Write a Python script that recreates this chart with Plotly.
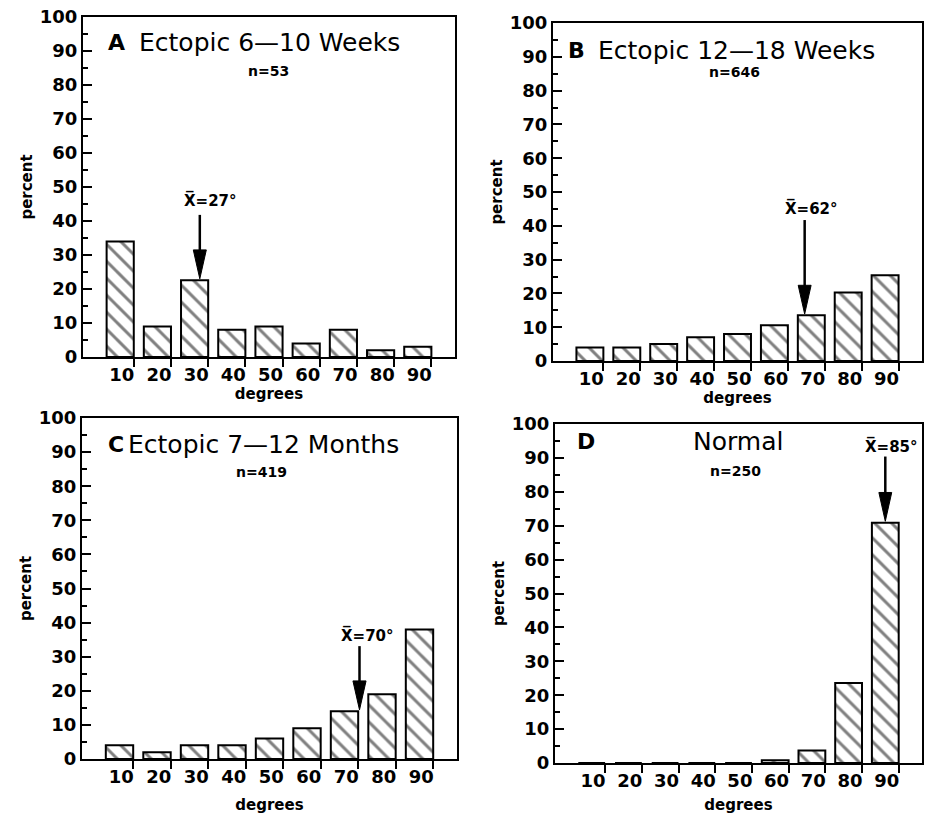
import plotly.graph_objects as go

# ---------------- data ----------------
degrees = [10, 20, 30, 40, 50, 60, 70, 80, 90]
tick_labels = ["10", "20", "30", "40", "50", "60", "70", "80", "90"]

pct_a = [34, 9, 22.6, 8, 9, 4, 8, 2, 3]
pct_b = [4, 4, 5, 7, 8, 10.6, 13.5, 20.3, 25.4]
pct_c = [4, 2, 4, 4, 6, 9, 14, 19, 38]
pct_d = [0, 0, 0, 0, 0, 0.8, 3.7, 23.6, 70.9]

panel_letters = ["A", "B", "C", "D"]
panel_titles = ["Ectopic 6\u201410 Weeks", "Ectopic 12\u201418 Weeks",
                "Ectopic 7\u201412 Months", "Normal"]
panel_n = ["n=53", "n=646", "n=419", "n=250"]
mean_labels = ["27\u00b0", "62\u00b0", "70\u00b0", "85\u00b0"]
arrow_x = [31.4, 68.2, 74.0, 90.0]
arrow_top = [41.8, 41.7, 33.1, 90.4]

series = [pct_a, pct_b, pct_c, pct_d]

# ---------------- layout config (pixels of a 927x814 page) ----------------
W, H = 927, 814
boxes = [  # left, right, top, bottom in px
    (83, 455, 17, 357),
    (553, 922, 23, 361),
    (82, 457, 418, 759),
    (555, 922, 424, 763),
]
letter_pos = [(6.3, 92.4), (3.6, 92.0), (6.3, 92.1), (5.4, 94.9)]
title_pos = [(50.0, 92.4), (49.7, 92.0), (48.3, 92.1), (49.8, 94.9)]
n_pos = [(49.8, 84.0), (49.2, 85.6), (47.8, 84.1), (49.2, 86.1)]
mean_text_pos = [(34.2, 46.3), (70.0, 45.3), (76.0, 36.4), (91.7, 93.4)]
xtitle_standoff = [2, 3, 18, 12]

FONT = "DejaVu Sans"
bar_width = 7.3
head_len = 8.5
head_half = 1.75

fig = go.Figure()
layout = dict(
    width=W, height=H,
    margin=dict(l=0, r=0, t=0, b=0, autoexpand=False),
    paper_bgcolor="white", plot_bgcolor="white",
    showlegend=False,
    font=dict(family=FONT, color="black"),
)
annotations = []
shapes = []

for i, vals in enumerate(series):
    xa = "x" if i == 0 else f"x{i+1}"
    ya = "y" if i == 0 else f"y{i+1}"
    xk = "xaxis" if i == 0 else f"xaxis{i+1}"
    yk = "yaxis" if i == 0 else f"yaxis{i+1}"
    l, r, t, b = boxes[i]
    px_per_unit = (r - l) / 100.0

    fig.add_trace(go.Bar(
        x=degrees, y=vals, xaxis=xa, yaxis=ya, width=bar_width,
        marker=dict(color="white", line=dict(color="black", width=2),
                    pattern=dict(shape="\\", fgcolor="black", bgcolor="white",
                                 size=12, solidity=0.25)),
        hoverinfo="skip",
    ))

    layout[xk] = dict(
        domain=[l / W, r / W], range=[0, 100], anchor=ya, automargin=False,
        tickmode="array", tickvals=[d + bar_width / 2 for d in degrees],
        ticktext=tick_labels,
        ticklabelshift=int(round(-(bar_width / 2) * px_per_unit + 1.5)),
        ticklabelstandoff=-8,
        ticks="outside", ticklen=8, tickwidth=2, tickcolor="black",
        showline=True, linewidth=2, linecolor="black", mirror=True,
        showgrid=False, zeroline=False,
        tickfont=dict(family=FONT, size=18, color="black", weight="bold"),
        title=dict(text="<b>degrees</b>", font=dict(family=FONT, size=15),
                   standoff=xtitle_standoff[i]),
    )
    layout[yk] = dict(
        domain=[1 - b / H, 1 - t / H], range=[0, 100], anchor=xa, automargin=False,
        tickmode="linear", tick0=0, dtick=10,
        ticks="inside", ticklen=9, tickwidth=2, tickcolor="black",
        minor=dict(dtick=5, ticks="inside", ticklen=5, tickwidth=2, tickcolor="black"),
        showline=True, linewidth=2, linecolor="black", mirror=True,
        showgrid=False, zeroline=False,
        tickfont=dict(family=FONT, size=18, color="black", weight="bold"),
        title=dict(text="<b>percent</b>", font=dict(family=FONT, size=15), standoff=4),
    )

    # titles
    annotations.append(dict(xref=xa, yref=ya, x=letter_pos[i][0], y=letter_pos[i][1],
                            text=f"<b>{panel_letters[i]}</b>", showarrow=False,
                            xanchor="left", yanchor="middle",
                            font=dict(family=FONT, size=22, color="black")))
    annotations.append(dict(xref=xa, yref=ya, x=title_pos[i][0], y=title_pos[i][1],
                            text=panel_titles[i], showarrow=False,
                            xanchor="center", yanchor="middle",
                            font=dict(family=FONT, size=25, color="black")))
    annotations.append(dict(xref=xa, yref=ya, x=n_pos[i][0], y=n_pos[i][1],
                            text=f"<b>{panel_n[i]}</b>", showarrow=False,
                            xanchor="center", yanchor="middle",
                            font=dict(family=FONT, size=14, color="black")))
    # mean label
    annotations.append(dict(xref=xa, yref=ya, x=mean_text_pos[i][0], y=mean_text_pos[i][1],
                            text=f"<b>X\u0305={mean_labels[i]}</b>", showarrow=False,
                            xanchor="center", yanchor="middle",
                            font=dict(family=FONT, size=15, color="black")))
    # arrow: shaft + head, tip on the bar containing the mean arrow
    k = min(range(len(degrees)), key=lambda j: abs(degrees[j] - arrow_x[i]))
    tip = vals[k] + 0.4
    ax = arrow_x[i]
    shapes.append(dict(type="line", xref=xa, yref=ya, x0=ax, x1=ax,
                       y0=arrow_top[i], y1=tip + head_len * 0.9,
                       line=dict(color="black", width=2.5)))
    shapes.append(dict(type="path", xref=xa, yref=ya,
                       path=f"M {ax} {tip} L {ax - head_half} {tip + head_len} "
                            f"L {ax + head_half} {tip + head_len} Z",
                       fillcolor="black", line=dict(color="black", width=1)))

layout["annotations"] = annotations
layout["shapes"] = shapes
fig.update_layout(**layout)
fig.write_html("out.html", config={"displayModeBar": False, "staticPlot": True},
               post_script="document.body.style.margin='0';document.body.style.overflow='hidden';")
